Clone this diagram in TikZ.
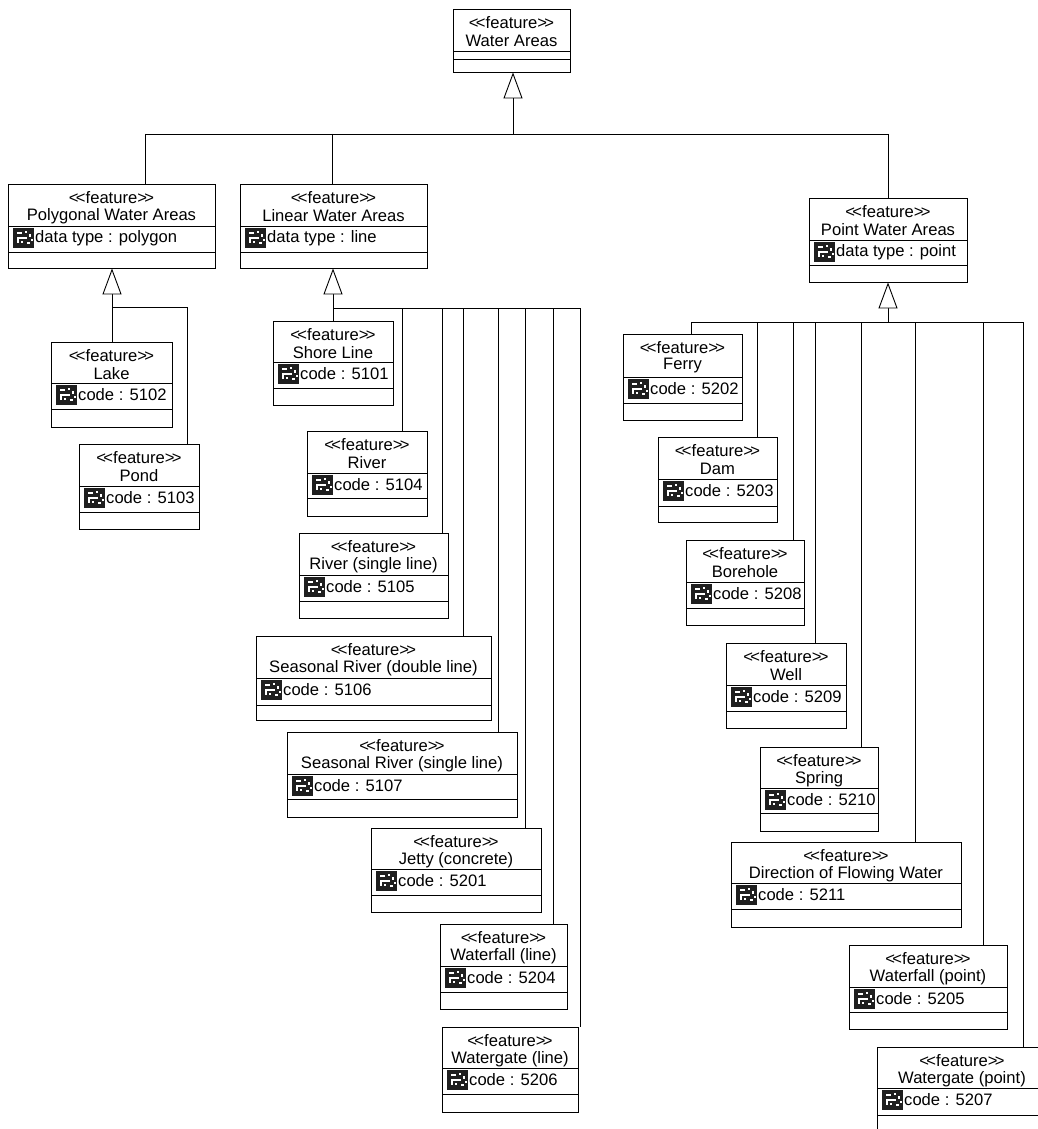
\documentclass[tikz,border=0pt]{standalone}
\usepackage{fontspec}
\setmainfont{Liberation Sans}
\usetikzlibrary{arrows.meta,fit}
\tikzset{
  classbox/.style={draw=black,line width=0.9pt,inner sep=0pt,fill=white},
  rulex/.style={draw=black,line width=0.8pt},
  conn/.style={draw=black,line width=0.9pt},
  gen/.style={conn,-{Triangle[open,fill=white,length=26pt,width=19pt,line width=0.9pt]}},
  stereo/.style={inner sep=0pt,font=\fontsize{16.6}{18}\selectfont},
  title/.style={inner sep=0pt,font=\fontsize{16.6}{18}\selectfont},
  attr/.style={inner sep=0pt,anchor=west,font=\fontsize{16.6}{18}\selectfont},
  iconbox/.style={inner sep=0pt,minimum width=21pt,minimum height=20pt,fill=black!88,anchor=north west},
  iconmark/.style={fill=white,draw=none}
}
\newcommand{\stereotext}{<\kern-2.6pt<feature>\kern-2.6pt>}
% name x1 y1 x2 y2 sep1 sep2 title attribute
\newcommand{\attricon}[3]{%
  \node[iconbox] (#1-icon) at (#2+5,#3+2) {};
  \fill[iconmark] (#2+9,#3+6) rectangle +(5,2);
  \fill[iconmark] (#2+17,#3+5) rectangle +(2,2);
  \fill[iconmark] (#2+21,#3+8) rectangle +(2,3);
  \fill[iconmark] (#2+9,#3+11) rectangle +(10,1.5);
  \fill[iconmark] (#2+9,#3+11) rectangle +(1.5,6);
  \fill[iconmark] (#2+13,#3+15) rectangle +(2,2);
  \fill[iconmark] (#2+19,#3+16) rectangle +(3,1.5);
  \fill[iconmark] (#2+23,#3+13) rectangle +(1.5,2);
}
\newcommand{\umlbox}[9]{%
  \node[classbox,fit={(#2,#3) (#4,#5)}] (#1) {};
  \node[stereo] (#1-st) at ({(#2+#4)/2},#3+14) {\stereotext};
  \node[title] (#1-ti) at ({(#2+#4)/2},#3+32) {#8};
  \draw[rulex] (#2,#6) -- (#4,#6);
  \draw[rulex] (#2,#7) -- (#4,#7);
  \attricon{#1}{#2}{#6}
  \node[attr] (#1-at) at (#2+27,#6+12) {#9};
}
% branch: coordinate name, x, bus y, child
\newcommand{\branch}[4]{%
  \coordinate (#1) at (#2,#3);
  \draw[conn] (#1) -- (#1 |- #4.north);
}
\begin{document}
\begin{tikzpicture}[x=1pt,y=-1pt]
\useasboundingbox (0,0) rectangle (1038,1129);
\fill[white] (0,0) rectangle (1038,1129);
\clip (0,0) rectangle (1038,1129);

% top class
\node[classbox,fit={(453,9) (570,72)}] (water) {};
\node[stereo] (water-st) at (511.5,23) {\stereotext};
\node[title] (water-ti) at (511.5,41) {Water Areas};
\draw[rulex] (453,51) -- (570,51);
\draw[rulex] (453,59) -- (570,59);

% second level
\umlbox{poly}{8}{184}{215}{268}{226}{252}{Polygonal Water Areas}{data type : polygon}
\umlbox{linear}{240}{184}{427}{268}{226}{252}{Linear Water Areas}{data type : line}
\umlbox{point}{809}{198}{967}{282}{240}{265}{Point Water Areas}{data type : point}

% polygon children
\umlbox{lake}{51}{342}{172}{427}{383}{409}{Lake}{code : 5102}
\umlbox{pond}{79}{444}{199}{529}{486}{512}{Pond}{code : 5103}

% linear children
\umlbox{shore}{273}{321}{393}{405}{362}{388}{Shore Line}{code : 5101}
\umlbox{river}{307}{431}{427}{516}{473}{498}{River}{code : 5104}
\umlbox{riversl}{299}{533}{448}{618}{575}{601}{River (single line)}{code : 5105}
\umlbox{seasdl}{256}{636}{491}{720}{678}{705}{Seasonal River (double line)}{code : 5106}
\umlbox{seassl}{287}{732}{517}{817}{774}{799}{Seasonal River (single line)}{code : 5107}
\umlbox{jetty}{371}{828}{541}{912}{869}{895}{Jetty (concrete)}{code : 5201}
\umlbox{fallline}{440}{924}{567}{1009}{966}{992}{Waterfall (line)}{code : 5204}
\umlbox{gateline}{442}{1027}{578}{1112}{1068}{1094}{Watergate (line)}{code : 5206}

% point children
\umlbox{ferry}{623}{334}{742}{420}{377}{403}{Ferry}{code : 5202}
\umlbox{dam}{658}{437}{777}{522}{479}{506}{Dam}{code : 5203}
\umlbox{bore}{686}{540}{804}{625}{582}{608}{Borehole}{code : 5208}
\umlbox{well}{726}{643}{846}{728}{685}{711}{Well}{code : 5209}
\umlbox{spring}{760}{747}{878}{831}{788}{813}{Spring}{code : 5210}
\umlbox{dir}{731}{842}{961}{927}{883}{909}{Direction of Flowing Water}{code : 5211}
\umlbox{fallpt}{849}{945}{1007}{1029}{987}{1012}{Waterfall (point)}{code : 5205}
\umlbox{gatept}{877}{1047}{1047}{1135}{1088}{1115}{Watergate (point)}{code : 5207}

% top tree
\coordinate (hubtop) at (513,134);
\draw[gen] (hubtop) -- (hubtop |- water.south);
\coordinate (busA) at (145,134);
\coordinate (busB) at (332,134);
\coordinate (busC) at (888,134);
\draw[conn] (busA) -- (busC);
\draw[conn] (busA) -- (busA |- poly.north);
\draw[conn] (busB) -- (busB |- linear.north);
\draw[conn] (busC) -- (busC |- point.north);

% polygon tree
\coordinate (hubpoly) at (112,307);
\draw[gen] (hubpoly) -- (hubpoly |- poly.south);
\draw[conn] (hubpoly) -- (hubpoly |- lake.north);
\coordinate (buspoly) at (187,307);
\draw[conn] (hubpoly) -- (buspoly);
\draw[conn] (buspoly) -- (buspoly |- pond.north);

% linear tree
\coordinate (hublin) at (333,308);
\draw[gen] (hublin) -- (hublin |- linear.south);
\draw[conn] (hublin) -- (hublin |- shore.north);
\coordinate (buslin) at (580,308);
\draw[conn] (hublin) -- (buslin);
\branch{l1}{402}{308}{river}
\branch{l2}{442}{308}{riversl}
\branch{l3}{463}{308}{seasdl}
\branch{l4}{498}{308}{seassl}
\branch{l5}{525}{308}{jetty}
\branch{l6}{553}{308}{fallline}
\branch{l7}{580}{308}{gateline}

% point tree
\coordinate (hubpt) at (888,322);
\draw[gen] (hubpt) -- (hubpt |- point.south);
\coordinate (busptL) at (691,322);
\coordinate (busptR) at (1023,322);
\draw[conn] (busptL) -- (busptR);
\draw[conn] (busptL) -- (busptL |- ferry.north);
\branch{p1}{757}{322}{dam}
\branch{p2}{793}{322}{bore}
\branch{p3}{815}{322}{well}
\branch{p4}{861}{322}{spring}
\branch{p5}{915}{322}{dir}
\branch{p6}{983}{322}{fallpt}
\branch{p7}{1023}{322}{gatept}
\end{tikzpicture}
\end{document}
